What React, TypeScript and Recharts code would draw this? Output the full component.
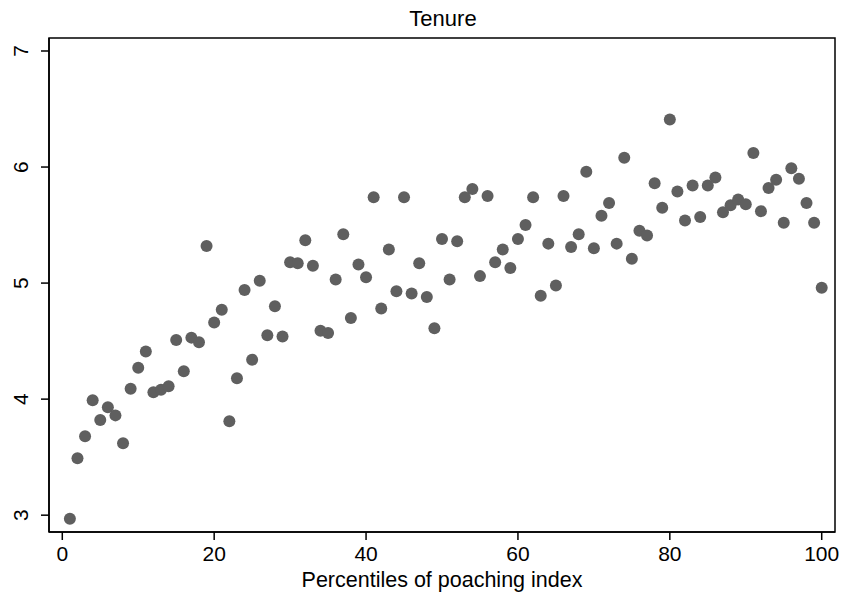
import React from "react";
import {
  ScatterChart,
  Scatter,
  XAxis,
  YAxis,
  ReferenceArea,
} from "recharts";

// Percentile of poaching index (x)
const percentiles: number[] = [
  1, 2, 3, 4, 5, 6, 7, 8, 9, 10,
  11, 12, 13, 14, 15, 16, 17, 18, 19, 20,
  21, 22, 23, 24, 25, 26, 27, 28, 29, 30,
  31, 32, 33, 34, 35, 36, 37, 38, 39, 40,
  41, 42, 43, 44, 45, 46, 47, 48, 49, 50,
  51, 52, 53, 54, 55, 56, 57, 58, 59, 60,
  61, 62, 63, 64, 65, 66, 67, 68, 69, 70,
  71, 72, 73, 74, 75, 76, 77, 78, 79, 80,
  81, 82, 83, 84, 85, 86, 87, 88, 89, 90,
  91, 92, 93, 94, 95, 96, 97, 98, 99, 100,
];

// Tenure (y)
const tenure: number[] = [
  2.97, 3.49, 3.68, 3.99, 3.82, 3.93, 3.86, 3.62, 4.09, 4.27,
  4.41, 4.06, 4.08, 4.11, 4.51, 4.24, 4.53, 4.49, 5.32, 4.66,
  4.77, 3.81, 4.18, 4.94, 4.34, 5.02, 4.55, 4.80, 4.54, 5.18,
  5.17, 5.37, 5.15, 4.59, 4.57, 5.03, 5.42, 4.70, 5.16, 5.05,
  5.74, 4.78, 5.29, 4.93, 5.74, 4.91, 5.17, 4.88, 4.61, 5.38,
  5.03, 5.36, 5.74, 5.81, 5.06, 5.75, 5.18, 5.29, 5.13, 5.38,
  5.50, 5.74, 4.89, 5.34, 4.98, 5.75, 5.31, 5.42, 5.96, 5.30,
  5.58, 5.69, 5.34, 6.08, 5.21, 5.45, 5.41, 5.86, 5.65, 6.41,
  5.79, 5.54, 5.84, 5.57, 5.84, 5.91, 5.61, 5.67, 5.72, 5.68,
  6.12, 5.62, 5.82, 5.89, 5.52, 5.99, 5.90, 5.69, 5.52, 4.96,
];

const xTicks: number[] = [0, 20, 40, 60, 80, 100];
const yTicks: number[] = [3, 4, 5, 6, 7];

const X_DOMAIN: [number, number] = [-1.75, 101.75];
const Y_DOMAIN: [number, number] = [2.855, 7.112];

const TITLE = "Tenure";
const X_LABEL = "Percentiles of poaching index";

const FONT = "'Liberation Sans', Arial, Helvetica, sans-serif";
const TICK_SIZE = 21;
const LABEL_SIZE = 21.5;
const TITLE_SIZE = 22;
const DOT = "#5f5f5f";

const data = percentiles.map((p, i) => ({ x: p, y: tenure[i] }));

const RotatedYTick = (props: any) => {
  const { x, y, payload } = props;
  const cx = x - 10;
  return (
    <text
      x={cx}
      y={y}
      transform={`rotate(-90, ${cx}, ${y})`}
      textAnchor="middle"
      dominantBaseline="central"
      fontFamily={FONT}
      fontSize={TICK_SIZE}
      fill="#000"
    >
      {payload.value}
    </text>
  );
};

const Dot = (props: any) => {
  const { cx, cy } = props;
  if (cx == null || cy == null) return null;
  return <circle cx={cx} cy={cy} r={6} fill={DOT} />;
};

export default function App() {
  return (
    <div
      style={{
        position: "absolute",
        left: 0,
        top: 0,
        width: 842,
        height: 594,
        background: "#fff",
      }}
    >
      <svg
        width={842}
        height={36}
        style={{ position: "absolute", left: 0, top: 0 }}
      >
        <text
          x={443}
          y={26}
          textAnchor="middle"
          fontFamily={FONT}
          fontSize={TITLE_SIZE}
          fill="#000"
        >
          {TITLE}
        </text>
      </svg>
      <ScatterChart
        width={842}
        height={594}
        margin={{ top: 38, right: 7, left: 0, bottom: 0 }}
        style={{ fontFamily: FONT }}
      >
        <XAxis
          type="number"
          dataKey="x"
          domain={X_DOMAIN}
          ticks={xTicks}
          allowDataOverflow
          height={62}
          tickSize={8}
          tickMargin={6}
          axisLine={{ stroke: "#000", strokeWidth: 1.5 }}
          tickLine={{ stroke: "#000", strokeWidth: 1.5 }}
          tick={{ fill: "#000", fontSize: TICK_SIZE, fontFamily: FONT }}
          label={{
            value: X_LABEL,
            position: "insideBottom",
            offset: 7,
            fill: "#000",
            fontSize: LABEL_SIZE,
            fontFamily: FONT,
          }}
        />
        <YAxis
          type="number"
          dataKey="y"
          domain={Y_DOMAIN}
          ticks={yTicks}
          allowDataOverflow
          width={49}
          tickSize={8}
          tickMargin={10}
          axisLine={{ stroke: "#000", strokeWidth: 1.5 }}
          tickLine={{ stroke: "#000", strokeWidth: 1.5 }}
          tick={<RotatedYTick />}
        />
        <ReferenceArea
          x1={X_DOMAIN[0]}
          x2={X_DOMAIN[1]}
          y1={Y_DOMAIN[0]}
          y2={Y_DOMAIN[1]}
          fill="none"
          fillOpacity={0}
          stroke="#000"
          strokeWidth={1.5}
          ifOverflow="visible"
        />
        <Scatter
          data={data}
          fill={DOT}
          shape={<Dot />}
          isAnimationActive={false}
        />
      </ScatterChart>
    </div>
  );
}
